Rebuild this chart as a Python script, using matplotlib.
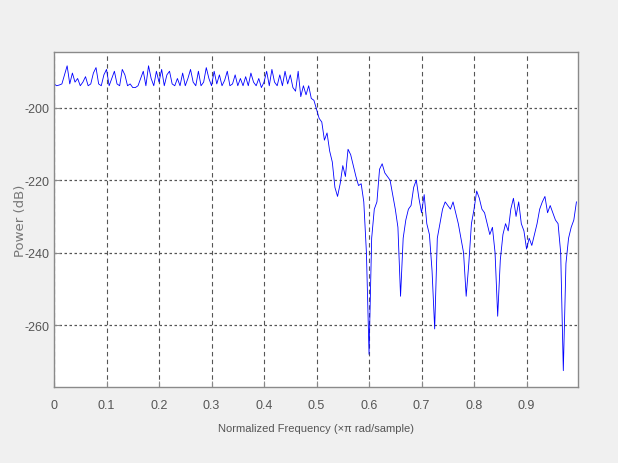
import numpy as np
import matplotlib
matplotlib.use("Agg")
import matplotlib.pyplot as plt

plt.rcParams['axes.unicode_minus'] = False
plt.rcParams['font.family'] = ['Liberation Sans', 'DejaVu Sans']

freq_step = 0.005
power_db = [
    # 0.000 - 0.095
    -193.5, -194, -193.8, -193.5, -191, -188.5, -193.5, -190.5, -193, -192,
    -194, -193, -191.5, -194, -193.5, -190.5, -189, -193.5, -194, -191,
    # 0.100 - 0.195
    -189.5, -194, -192, -190, -193.5, -194, -189.5, -191, -194, -193.5,
    -194.5, -194.5, -194, -192, -190, -194, -188.5, -192, -194, -190,
    # 0.200 - 0.295
    -193, -189.5, -194, -191, -190, -193.5, -194, -192, -194, -190.5,
    -194, -192, -189.5, -193, -194, -190, -194, -193, -189, -192,
    # 0.300 - 0.395
    -194, -190, -193.5, -191, -194, -192.5, -190, -194, -193.5, -191,
    -194, -192, -194, -191.5, -194, -190.5, -193, -194, -192, -194.5,
    # 0.400 - 0.495
    -193, -190, -194, -189.5, -193, -194, -191, -194, -190, -193.5,
    -191, -194.5, -195.5, -190, -197, -194, -196.5, -194, -197.5, -198,
    # 0.500 - 0.595
    -200.5, -203, -204, -209, -207, -212, -215, -222, -224.5, -221,
    -216, -219, -211.5, -213, -216, -219, -221.5, -221, -226, -240,
    # 0.600 - 0.695
    -268, -236, -228, -226, -217, -215.5, -218, -219, -220, -224,
    -228, -233, -252, -236, -231, -228, -227, -222, -220, -225,
    # 0.700 - 0.795
    -229, -224, -232, -235, -245, -261, -236, -232, -228, -226,
    -227, -228, -226, -229, -232, -236, -240, -252, -243, -232,
    # 0.800 - 0.895
    -228, -223, -225, -228, -229, -232, -235, -233, -240, -257.5,
    -242, -235, -232, -234, -228, -225, -230, -226, -232, -234,
    # 0.900 - 0.995
    -239, -236, -238, -235, -232, -228, -226, -224.5, -229, -227,
    -229, -231, -232, -240, -272.5, -243, -236, -233, -231, -226,
]
freqs = np.arange(len(power_db)) * freq_step

xtick_vals = [0, 0.1, 0.2, 0.3, 0.4, 0.5, 0.6, 0.7, 0.8, 0.9]
xtick_labels = ["0", "0.1", "0.2", "0.3", "0.4", "0.5", "0.6", "0.7", "0.8", "0.9"]
ytick_vals = [-200, -220, -240, -260]
ytick_labels = ["-200", "-220", "-240", "-260"]

fig = plt.figure(figsize=(6.18, 4.64), dpi=100, facecolor='#f0f0f0')
ax = fig.add_axes([0.0874, 0.1638, 0.8479, 0.722])
ax.set_facecolor('white')
ax.plot(freqs, power_db, color='#0000ff', linewidth=0.6)

ax.set_xlim(0, 0.998)
ax.set_ylim(-277, -184.7)
ax.set_xticks(xtick_vals)
ax.set_xticklabels(xtick_labels)
ax.set_yticks(ytick_vals)
ax.set_yticklabels(ytick_labels)

ax.xaxis.grid(True, color='#555555', linestyle=(0, (4, 3)), linewidth=0.8)
ax.yaxis.grid(True, color='#555555', linestyle=(0, (2, 2)), linewidth=0.9)
for s in ax.spines.values():
    s.set_color('#8a8a8a')
    s.set_linewidth(1.0)
ax.tick_params(direction='in', length=4, colors='#8a8a8a', labelcolor='#555555',
               labelsize=9)
ax.tick_params(axis='x', pad=9)
ax.tick_params(axis='y', pad=3.5)

ax.set_xlabel("Normalized Frequency (\u00d7\u03c0 rad/sample)", fontsize=8,
              color='#555555')
ax.xaxis.set_label_coords(0.5, -0.107)
ax.set_ylabel("Power (dB)", fontsize=9.5, color='#777777',
              family=['DejaVu Sans'])
ax.yaxis.set_label_coords(-0.052, 0.5)

fig.savefig("out.png", dpi=100, facecolor=fig.get_facecolor())
